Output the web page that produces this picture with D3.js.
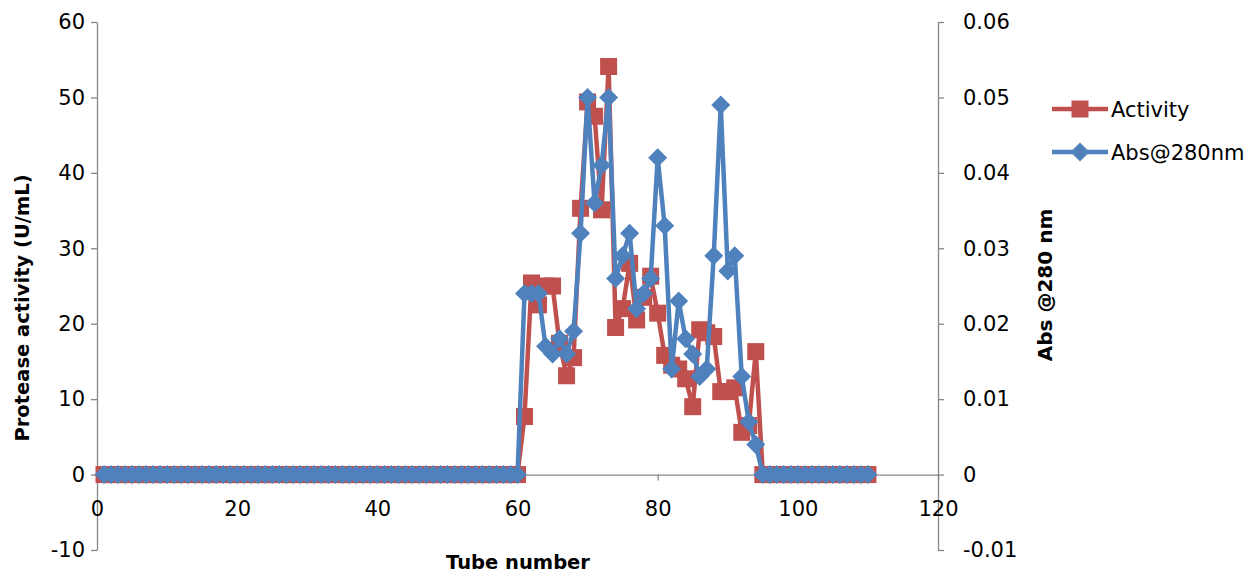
<!DOCTYPE html>
<html>
<head>
<meta charset="utf-8">
<script src="https://cdn.jsdelivr.net/npm/d3@7"></script>
<style>
  html, body { margin: 0; padding: 0; background: #fff; }
  svg { display: block; font-family: "DejaVu Sans", sans-serif; }
</style>
</head>
<body>
<script>
'use strict';

// tube numbers (x)
const tubes = [
  1, 2, 3, 4, 5, 6, 7, 8, 9, 10,
  11, 12, 13, 14, 15, 16, 17, 18, 19, 20,
  21, 22, 23, 24, 25, 26, 27, 28, 29, 30,
  31, 32, 33, 34, 35, 36, 37, 38, 39, 40,
  41, 42, 43, 44, 45, 46, 47, 48, 49, 50,
  51, 52, 53, 54, 55, 56, 57, 58, 59, 60,
  61, 62, 63, 64, 65, 66, 67, 68, 69, 70,
  71, 72, 73, 74, 75, 76, 77, 78, 79, 80,
  81, 82, 83, 84, 85, 86, 87, 88, 89, 90,
  91, 92, 93, 94, 95, 96, 97, 98, 99, 100,
  101, 102, 103, 104, 105, 106, 107, 108, 109, 110
];

// protease activity (U/mL), left axis
const activity = [
  0, 0, 0, 0, 0, 0, 0, 0, 0, 0,
  0, 0, 0, 0, 0, 0, 0, 0, 0, 0,
  0, 0, 0, 0, 0, 0, 0, 0, 0, 0,
  0, 0, 0, 0, 0, 0, 0, 0, 0, 0,
  0, 0, 0, 0, 0, 0, 0, 0, 0, 0,
  0, 0, 0, 0, 0, 0, 0, 0, 0, 0,
  7.7, 25.4, 22.5, 25, 25, 17.4, 13.1, 15.5, 35.3, 49.4,
  47.5, 35.1, 54.1, 19.5, 22, 28, 20.5, 23.5, 26.3, 21.4,
  15.8, 14.5, 14, 12.7, 9, 19.2, 18.8, 18.3, 11, 11,
  11.5, 5.6, 6.5, 16.3, 0, 0, 0, 0, 0, 0,
  0, 0, 0, 0, 0, 0, 0, 0, 0, 0
];

// absorbance at 280 nm, right axis
const abs280 = [
  0, 0, 0, 0, 0, 0, 0, 0, 0, 0,
  0, 0, 0, 0, 0, 0, 0, 0, 0, 0,
  0, 0, 0, 0, 0, 0, 0, 0, 0, 0,
  0, 0, 0, 0, 0, 0, 0, 0, 0, 0,
  0, 0, 0, 0, 0, 0, 0, 0, 0, 0,
  0, 0, 0, 0, 0, 0, 0, 0, 0, 0,
  0.024, 0.024, 0.024, 0.017, 0.016, 0.018, 0.016, 0.019, 0.032, 0.050,
  0.036, 0.041, 0.050, 0.026, 0.029, 0.032, 0.022, 0.024, 0.026, 0.042,
  0.033, 0.014, 0.023, 0.018, 0.016, 0.013, 0.014, 0.029, 0.049, 0.027,
  0.029, 0.013, 0.007, 0.004, 0, 0, 0, 0, 0, 0,
  0, 0, 0, 0, 0, 0, 0, 0, 0, 0
];

const xTicks = [0, 20, 40, 60, 80, 100, 120];
const leftTicks = [-10, 0, 10, 20, 30, 40, 50, 60];
const rightTicks = [-0.01, 0, 0.01, 0.02, 0.03, 0.04, 0.05, 0.06];

const seriesNames = ["Activity", "Abs@280nm"];

const W = 1253, H = 575;
const RED = "#C0504D", BLUE = "#4F81BD", AXIS = "#868686";

const svg = d3.select("body").append("svg")
  .attr("width", W)
  .attr("height", H);

const x = d3.scaleLinear().domain([0, 120]).range([97, 938]);
const yL = d3.scaleLinear().domain([-10, 60]).range([550, 22]);
const yR = d3.scaleLinear().domain([-0.01, 0.06]).range([550, 22]);

function styleAxis(g) {
  g.select(".domain").attr("stroke", AXIS).attr("stroke-width", 1.3);
  g.selectAll(".tick line").attr("stroke", AXIS).attr("stroke-width", 1.3);
  g.selectAll(".tick text")
    .attr("fill", "#000")
    .style("font-size", "21px")
    .style("font-family", "'DejaVu Sans', sans-serif");
}

// left axis
svg.append("g")
  .attr("transform", `translate(${x(0)},0)`)
  .call(d3.axisLeft(yL).tickValues(leftTicks).tickSize(6).tickPadding(6)
    .tickSizeOuter(0).tickFormat((d) => String(d)))
  .call(styleAxis);

// right axis
svg.append("g")
  .attr("transform", `translate(${x(120)},0)`)
  .call(d3.axisRight(yR).tickValues(rightTicks).tickSize(6).tickPadding(19)
    .tickSizeOuter(0).tickFormat((d) => String(d)))
  .call(styleAxis);

// x axis sits on zero
svg.append("g")
  .attr("transform", `translate(0,${yL(0)})`)
  .call(d3.axisBottom(x).tickValues(xTicks).tickSize(6).tickPadding(21)
    .tickSizeOuter(0).tickFormat((d) => String(d)))
  .call(styleAxis);

// axis titles
svg.append("text")
  .attr("transform", `translate(29,${(yL(60) + yL(-10)) / 2 + 22}) rotate(-90)`)
  .attr("text-anchor", "middle")
  .style("font-size", "19.5px")
  .style("font-weight", "bold")
  .text("Protease activity (U/mL)");

svg.append("text")
  .attr("transform", `translate(1052,285) rotate(-90)`)
  .attr("text-anchor", "middle")
  .style("font-size", "20px")
  .style("font-weight", "bold")
  .text("Abs @280 nm");

svg.append("text")
  .attr("x", 518)
  .attr("y", 569)
  .attr("text-anchor", "middle")
  .style("font-size", "19.5px")
  .style("font-weight", "bold")
  .text("Tube number");

// marker shapes
const SQ = 8.5;   // half side of square
const DM = 9.5;   // half diagonal of diamond
const squarePath = `M${-SQ},${-SQ}H${SQ}V${SQ}H${-SQ}Z`;
const diamondPath = `M0,${-DM}L${DM},0L0,${DM}L${-DM},0Z`;

const actData = tubes.map((t, i) => ({ t, v: activity[i] }));
const absData = tubes.map((t, i) => ({ t, v: abs280[i] }));

function drawSeries(data, yScale, color, path) {
  const g = svg.append("g");
  g.append("path")
    .datum(data)
    .attr("fill", "none")
    .attr("stroke", color)
    .attr("stroke-width", 4.5)
    .attr("stroke-linejoin", "round")
    .attr("d", d3.line().x((d) => x(d.t)).y((d) => yScale(d.v)));

  g.selectAll("path.marker")
    .data(data)
    .enter()
    .append("path")
      .attr("class", "marker")
      .attr("d", path)
      .attr("fill", color)
      .attr("transform", (d) => `translate(${x(d.t)},${yScale(d.v)})`);
}

drawSeries(actData, yL, RED, squarePath);
drawSeries(absData, yR, BLUE, diamondPath);

// legend
const legend = svg.append("g");
const legendItems = [
  { name: seriesNames[0], color: RED, path: squarePath, y: 109 },
  { name: seriesNames[1], color: BLUE, path: diamondPath, y: 152 }
];
legendItems.forEach((it) => {
  legend.append("line")
    .attr("x1", 1052).attr("x2", 1108)
    .attr("y1", it.y).attr("y2", it.y)
    .attr("stroke", it.color)
    .attr("stroke-width", 4.5);
  legend.append("path")
    .attr("d", it.path)
    .attr("fill", it.color)
    .attr("transform", `translate(1080,${it.y})`);
  legend.append("text")
    .attr("x", 1111)
    .attr("y", it.y + 8)
    .style("font-size", "21px")
    .text(it.name);
});
</script>
</body>
</html>
